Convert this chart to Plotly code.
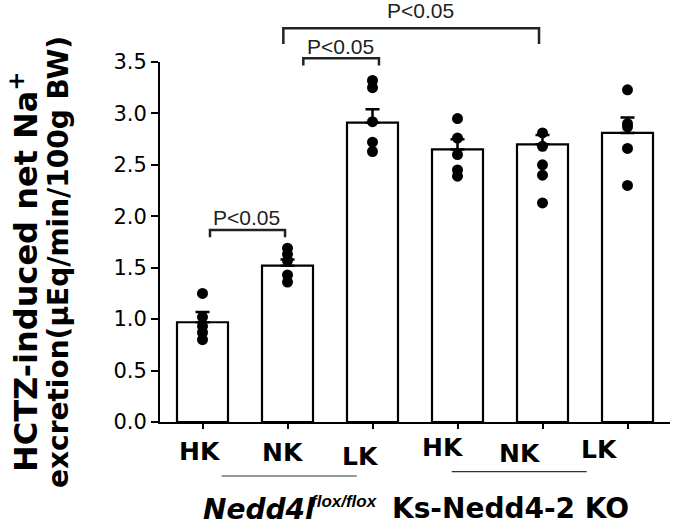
import plotly.graph_objects as go

# ---- data ----
group_labels = ["HK", "NK", "LK", "HK", "NK", "LK"]
bar_means = [0.97, 1.52, 2.91, 2.65, 2.70, 2.81]
bar_sem = [0.10, 0.06, 0.13, 0.10, 0.09, 0.15]

pts_hk_flox = [1.25, 1.02, 0.93, 0.87, 0.80]
pts_nk_flox = [1.69, 1.63, 1.57, 1.43, 1.36]
pts_lk_flox = [3.32, 3.25, 2.92, 2.72, 2.63]
pts_hk_ko = [2.95, 2.76, 2.60, 2.45, 2.39]
pts_nk_ko = [2.81, 2.68, 2.50, 2.40, 2.13]
pts_lk_ko = [3.23, 2.90, 2.87, 2.66, 2.30]
all_points = [pts_hk_flox, pts_nk_flox, pts_lk_flox, pts_hk_ko, pts_nk_ko, pts_lk_ko]

y_ticks = [0.0, 0.5, 1.0, 1.5, 2.0, 2.5, 3.0, 3.5]
sig_label = "P<0.05"

BOLD = "DejaVu Sans"
x_pos = list(range(len(group_labels)))

fig = go.Figure()
fig.add_trace(go.Bar(
    x=x_pos, y=bar_means, width=0.6,
    marker=dict(color="white", line=dict(color="black", width=2.2)),
    error_y=dict(type="data", array=bar_sem, arrayminus=[0] * len(bar_sem),
                 symmetric=False, color="black", thickness=2.5, width=7),
    showlegend=False,
))
dx, dy = [], []
for i, pts in enumerate(all_points):
    dx += [i] * len(pts)
    dy += pts
fig.add_trace(go.Scatter(
    x=dx, y=dy, mode="markers",
    marker=dict(color="black", size=11, line=dict(width=0)),
    showlegend=False, cliponaxis=False,
))

shapes = []
ann = []
line_col = "#222222"

def bracket(x0, x1, ytop, ybot):
    shapes.append(dict(type="path", xref="x", yref="paper",
                       path=f"M {x0},{ybot} L {x0},{ytop} L {x1},{ytop} L {x1},{ybot}",
                       line=dict(color=line_col, width=2.5)))

bracket(0.088, 0.971, 0.533, 0.513)
bracket(1.186, 2.076, 1.0103, 0.990)
bracket(0.951, 3.959, 1.0936, 1.050)
for (xx, yy) in [(0.518, 0.568), (1.618, 1.042), (2.559, 1.144)]:
    ann.append(dict(x=xx, y=yy, xref="x", yref="paper", text=sig_label, showarrow=False,
                    font=dict(family="Liberation Sans, Arial", size=21, color=line_col),
                    xanchor="center", yanchor="middle", borderpad=0))

# group underlines
shapes.append(dict(type="line", xref="x", yref="paper", x0=0.226, x1=1.814, y0=-0.150, y1=-0.150,
                   line=dict(color="#333333", width=1.2)))
shapes.append(dict(type="line", xref="x", yref="paper", x0=2.932, x1=4.520, y0=-0.138, y1=-0.138,
                   line=dict(color="#333333", width=1.2)))

# category labels (staggered as in reference)
lab_xshift = [-2.5, -4.5, -12.5, -15, -22.5, -28.5]
lab_yshift = [-29, -30.5, -34.5, -25.5, -31.5, -27]
for i, lab in enumerate(group_labels):
    ann.append(dict(x=i, y=0, xref="x", yref="paper", text=f"<b>{lab}</b>", showarrow=False,
                    font=dict(family=BOLD, size=25, color="black"),
                    xanchor="center", yanchor="middle",
                    xshift=lab_xshift[i], yshift=lab_yshift[i]))

ann.append(dict(x=0.659, y=0, xref="x", yref="paper", text="<b><i>Nedd4l</i></b>", showarrow=False,
                font=dict(family=BOLD, size=28, color="black"), xanchor="center", yanchor="middle",
                yshift=-87, borderpad=0))
ann.append(dict(x=1.676, y=0, xref="x", yref="paper", text="<b><i>flox/flox</i></b>", showarrow=False,
                font=dict(family="Liberation Sans Narrow, Liberation Sans", size=17, color="black"),
                xanchor="center", yanchor="middle", yshift=-79.5))
ann.append(dict(x=3.618, y=0, xref="x", yref="paper", text="<b>Ks-Nedd4-2 KO</b>", showarrow=False,
                font=dict(family=BOLD, size=28, color="black"), xanchor="center", yanchor="middle",
                yshift=-86.5, borderpad=0))

# y title (two lines)
ann.append(dict(x=0, y=0.5, xref="paper", yref="paper",
                text="<b>HCTZ-induced net Na<sup>+</sup></b>",
                textangle=-90, showarrow=False, font=dict(family=BOLD, size=32, color="black"),
                xanchor="center", yanchor="middle", xshift=-136, yshift=-30, borderpad=0))
ann.append(dict(x=0, y=0.5, xref="paper", yref="paper",
                text="<b>excretion(μEq/min/100g BW)</b>",
                textangle=-90, showarrow=False, font=dict(family=BOLD, size=28, color="black"),
                xanchor="center", yanchor="middle", xshift=-102, yshift=-20, borderpad=0))

fig.update_layout(
    width=680, height=526,
    margin=dict(l=160, r=10, t=62, b=104),
    paper_bgcolor="white", plot_bgcolor="white",
    shapes=shapes, annotations=ann,
    xaxis=dict(range=[-0.5, 5.5], tickvals=x_pos, ticktext=[""] * 6, showticklabels=False,
               ticks="outside", ticklen=5, tickwidth=2, tickcolor="black",
               showline=True, linecolor="black", linewidth=2, showgrid=False, zeroline=False),
    yaxis=dict(range=[0, 3.5], tickvals=y_ticks, ticktext=[f"{v:.1f}" for v in y_ticks],
               ticks="outside", ticklen=7, tickwidth=2, tickcolor="black",
               tickfont=dict(family=BOLD, size=21, color="black"),
               showline=True, linecolor="black", linewidth=2, showgrid=False, zeroline=False),
)

# remove the default 8px page margin so the figure fills the window exactly
fig.write_html("out.html", config={"displayModeBar": False},
               post_script="document.body.style.margin='0';document.body.style.overflow='hidden';")
